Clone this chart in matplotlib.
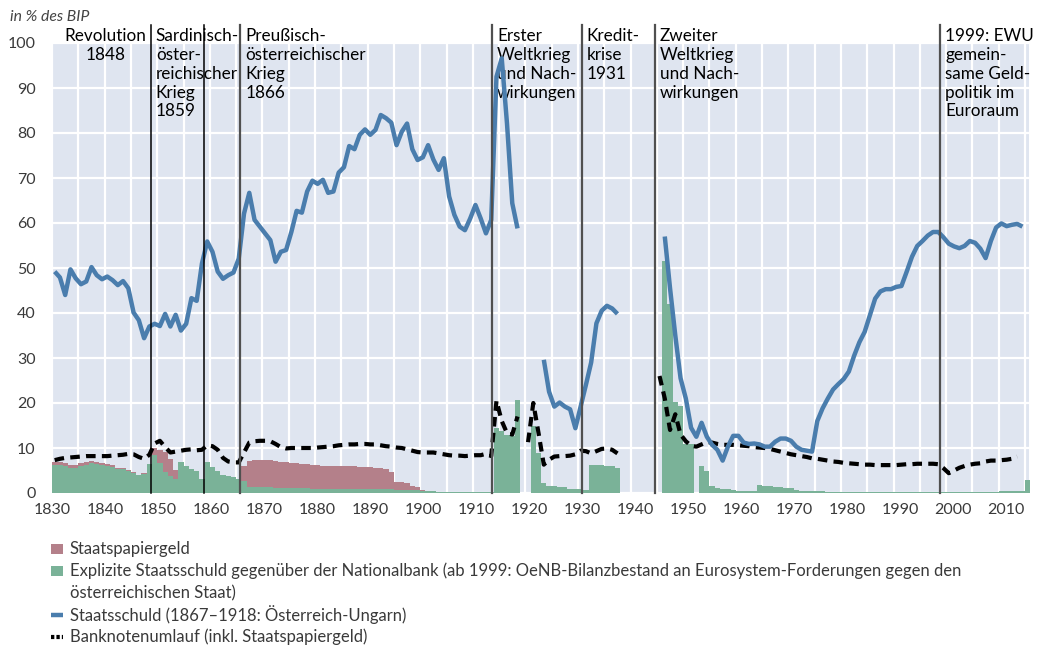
import numpy as np
import matplotlib
matplotlib.use("Agg")
import matplotlib.pyplot as plt
from matplotlib.patches import Rectangle
from matplotlib.lines import Line2D
from matplotlib.transforms import ScaledTranslation

plt.rcParams['font.family'] = ['Lato', 'DejaVu Sans']

# ---------------- data (in % des BIP) ----------------
# Staatsschuld
debt_a_start = 1830
debt_a = [49.2, 47.9, 44.0, 49.7, 47.7, 46.4, 47.0, 50.2, 48.4, 47.5,
          48.1, 47.3, 46.2, 47.1, 45.5, 40.1, 38.4, 34.4, 37.0, 37.6,
          37.1, 39.8, 37.0, 39.6, 36.1, 37.6, 43.3, 42.7, 51.0, 55.9,
          53.6, 49.2, 47.6, 48.4, 49.0, 52.1, 62.1, 66.7, 60.7, 59.2,
          57.7, 56.2, 51.4, 53.6, 54.0, 58.0, 62.7, 62.3, 67.0, 69.4,
          68.7, 69.6, 66.7, 67.0, 71.2, 72.4, 77.1, 76.4, 79.6, 80.8,
          79.6, 80.7, 84.0, 83.3, 82.3, 77.3, 80.3, 82.1, 76.4, 74.0,
          74.6, 77.3, 74.1, 71.8, 74.4, 65.9, 61.8, 59.2, 58.4, 61.0,
          64.0, 61.0, 57.7, 60.7, 92.5, 96.6, 82.1, 64.4, 58.8]
debt_b_start = 1923
debt_b = [29.6, 22.5, 19.2, 20.1, 19.2, 18.6, 14.4, 19.2, 24.0, 29.0,
          37.7, 40.5, 41.6, 41.0, 39.8]
debt_c_start = 1946
debt_c = [57.0, 45.5, 35.0, 25.5, 21.0, 14.5, 12.5, 15.6, 12.5, 10.7,
          9.6, 7.2, 10.3, 12.7, 12.7, 11.2, 10.9, 11.0, 10.8, 10.3,
          10.3, 11.4, 12.1, 12.1, 11.6, 10.3, 9.6, 9.4, 9.2, 16.0,
          18.8, 21.0, 23.0, 24.2, 25.3, 27.0, 30.5, 33.5, 35.8, 39.5,
          43.2, 44.8, 45.3, 45.3, 45.8, 46.0, 49.2, 52.5, 54.9, 56.0,
          57.2, 58.0, 58.0, 56.8, 55.4, 54.8, 54.4, 54.9, 56.0, 55.6,
          54.3, 52.2, 56.0, 59.0, 59.9, 59.3, 59.6, 59.8, 59.2]

# Banknotenumlauf (inkl. Staatspapiergeld)
notes_a_start = 1830
notes_a = [7.3, 7.6, 7.8, 7.9, 8.0, 8.1, 8.2, 8.2, 8.2, 8.2,
           8.2, 8.3, 8.4, 8.5, 8.7, 8.6, 8.0, 7.6, 8.5, 11.0,
           11.6, 10.2, 9.0, 9.2, 9.4, 9.6, 9.7, 9.5, 9.6, 10.6,
           10.4, 9.6, 7.8, 7.0, 6.8, 6.8, 9.0, 11.2, 11.5, 11.6,
           11.6, 11.5, 10.9, 10.2, 9.9, 10.0, 10.0, 10.0, 10.0, 10.0,
           10.1, 10.2, 10.3, 10.4, 10.6, 10.7, 10.8, 10.8, 10.9, 10.9,
           10.8, 10.8, 10.6, 10.4, 10.3, 10.1, 10.0, 9.7, 9.4, 9.1,
           9.0, 9.0, 9.0, 8.8, 8.6, 8.4, 8.3, 8.3, 8.2, 8.3,
           8.4, 8.4, 8.7, 8.2, 20.5, 16.0, 13.3, 13.0, 17.0]
notes_b_start = 1920
notes_b = [11.3, 20.0, 13.3, 6.3, 7.4, 8.1, 8.2, 8.2, 8.3, 8.6,
           9.4, 9.3, 8.8, 9.3, 9.8, 9.9, 9.6, 8.8]
notes_c_start = 1945
notes_c = [26.0, 21.0, 14.0, 17.5, 13.0, 11.5, 10.5, 10.3, 10.8, 11.3,
           11.2, 10.9, 10.7, 10.7, 10.7, 10.6, 10.5, 10.4, 10.2, 10.1,
           10.0, 9.8, 9.5, 9.2, 8.9, 8.6, 8.4, 8.2, 8.0, 7.7,
           7.6, 7.4, 7.2, 7.0, 6.9, 6.7, 6.6, 6.5, 6.4, 6.3,
           6.3, 6.2, 6.2, 6.2, 6.2, 6.2, 6.3, 6.4, 6.4, 6.5,
           6.5, 6.5, 6.5, 6.4, 5.5, 4.4, 5.0, 5.6, 6.0, 6.3,
           6.5, 6.6, 7.0, 7.2, 7.2, 7.3, 7.4, 7.6, 8.1]

# Explizite Staatsschuld gegenüber der Nationalbank
green_a_start = 1830
green_a = [6.2, 6.2, 6.0, 5.5, 5.6, 6.0, 6.3, 6.6, 6.4, 6.2,
           6.0, 5.8, 5.4, 5.3, 4.8, 4.4, 3.9, 4.2, 6.4, 8.4,
           6.6, 4.6, 3.7, 3.1, 7.0, 6.0, 5.4, 5.0, 3.2, 6.8,
           5.7, 4.8, 4.0, 3.8, 3.5, 3.1, 2.6, 1.4, 1.4, 1.3,
           1.3, 1.3, 1.2, 1.2, 1.2, 1.1, 1.1, 1.1, 1.1, 1.0,
           1.0, 1.0, 1.0, 1.0, 0.9, 0.9, 0.9, 0.9, 0.9, 0.9,
           0.8, 0.8, 0.8, 0.8, 0.8, 0.7, 0.7, 0.7, 0.6, 0.6,
           0.5, 0.4, 0.4, 0.3, 0.3, 0.3, 0.3, 0.3, 0.3, 0.3,
           0.2, 0.2, 0.2, 0.2, 14.5, 13.8, 13.0, 12.6, 20.7]
green_b_start = 1921
green_b = [15.0, 9.0, 2.2, 1.5, 1.5, 1.4, 1.3, 0.9, 0.8, 0.8,
           0.7, 6.3, 6.3, 6.2, 6.1, 6.0, 5.6]
green_c_start = 1946
green_c = [51.6, 42.0, 20.3, 19.3, 11.0, 11.0, 0.0, 6.0, 4.8, 1.5,
           1.2, 1.0, 0.9, 0.7, 0.5, 0.5, 0.5, 0.5, 1.7, 1.6,
           1.5, 1.4, 1.3, 1.2, 1.1, 0.6, 0.5, 0.5, 0.5, 0.4,
           0.4, 0.3, 0.3, 0.2, 0.2, 0.2, 0.2, 0.2, 0.2, 0.2,
           0.2, 0.2, 0.2, 0.2, 0.2, 0.2, 0.2, 0.2, 0.2, 0.2,
           0.2, 0.2, 0.2, 0.2, 0.2, 0.2, 0.2, 0.2, 0.2, 0.2,
           0.2, 0.2, 0.2, 0.3, 0.4, 0.4, 0.5, 0.5, 0.4, 3.0]

# Staatspapiergeld (stacked on top of green)
paper_start = 1830
paper = [0.8, 0.8, 0.6, 0.7, 0.6, 0.7, 0.7, 0.5, 0.4, 0.4,
         0.4, 0.4, 0.2, 0.2, 0.3, 0.2, 0.2, 0.2, 0.0, 1.7,
         3.0, 4.6, 3.9, 2.0, 0.0, 0.0, 0.0, 0.0, 0.0, 0.0,
         0.0, 0.0, 0.0, 0.0, 0.0, 0.0, 3.4, 5.8, 5.9, 6.1,
         6.1, 6.0, 5.9, 5.8, 5.6, 5.6, 5.5, 5.3, 5.3, 5.3,
         5.2, 5.1, 5.0, 5.0, 5.2, 5.1, 5.0, 5.0, 4.9, 4.9,
         4.9, 4.8, 4.7, 4.5, 3.9, 1.8, 1.7, 1.6, 1.0, 0.7,
         0.1]

# events (vertical lines) and their captions
event_years = [1848.8, 1858.9, 1865.8, 1913.7, 1930.7, 1944.6, 1998.9]
caption_revolution = "Revolution\n1848"
captions_right_of_line = [
    (0, "Sardinisch-\nöster-\nreichischer\nKrieg\n1859"),
    (2, "Preußisch-\nösterreichischer\nKrieg\n1866"),
    (3, "Erster\nWeltkrieg\nund Nach-\nwirkungen"),
    (4, "Kredit-\nkrise\n1931"),
    (5, "Zweiter\nWeltkrieg\nund Nach-\nwirkungen"),
    (6, "1999: EWU\ngemein-\nsame Geld-\npolitik im\nEuroraum"),
]

x_ticks = list(range(1830, 2011, 10))
y_ticks = list(range(0, 101, 10))

legend_labels = ["Staatspapiergeld",
                 "Explizite Staatsschuld gegenüber der Nationalbank (ab 1999: OeNB-Bilanzbestand an Eurosystem-Forderungen gegen den\nösterreichischen Staat)",
                 "Staatsschuld (1867–1918: Österreich-Ungarn)",
                 "Banknotenumlauf (inkl. Staatspapiergeld)"]

# ---------------- styles ----------------
C_BG = '#dfe5f0'
C_BLUE = '#4a7dad'
C_GREEN = '#7ab298'
C_PINK = '#b4808a'
C_TXT = '#3a3a3a'

W, H = 1038, 647
fig = plt.figure(figsize=(W / 100, H / 100), dpi=100)
ax = fig.add_axes([51 / W, 1 - 493 / H, 978 / W, 450 / H])
ax.set_facecolor(C_BG)
ax.set_xlim(1829.8, 2015.75)
ax.set_ylim(0, 100)
for s in ax.spines.values():
    s.set_visible(False)

ax.set_xticks(x_ticks)
ax.set_xticks(range(1830, 2016, 5), minor=True)
ax.set_yticks(y_ticks)
ax.grid(which='both', color='white', lw=1.6, zorder=0)
ax.set_axisbelow(True)
ax.tick_params(which='both', length=0)
ax.tick_params(axis='x', pad=7, labelsize=11.5, labelcolor=C_TXT)
ax.tick_params(axis='y', pad=11, labelsize=11.5, labelcolor=C_TXT)

# reference labels drift slightly to the right of their gridlines
for yr, lab in zip(x_ticks, ax.get_xticklabels()):
    dx = (yr - 1830) * 0.04 / 100.0
    lab.set_transform(lab.get_transform() + ScaledTranslation(dx, 0, fig.dpi_scale_trans))


def steps(start, vals):
    v = np.asarray(vals, dtype=float)
    x = np.arange(start, start + len(v) + 1)
    return x, np.append(v, v[-1])


# stacked areas
for st, vals in [(green_a_start, green_a), (green_b_start, green_b), (green_c_start, green_c)]:
    x, y = steps(st, vals)
    ax.fill_between(x, 0, y, step='post', color=C_GREEN, lw=0, zorder=2)

g_under = np.asarray(green_a[:len(paper)])
x, base = steps(paper_start, g_under)
_, top = steps(paper_start, g_under + np.asarray(paper))
ax.fill_between(x, base, top, step='post', color=C_PINK, lw=0, zorder=2)

# banknotes
for st, vals in [(notes_a_start, notes_a), (notes_b_start, notes_b), (notes_c_start, notes_c)]:
    yrs = np.arange(st, st + len(vals)) + 0.5
    ax.plot(yrs, vals, color='black', lw=3.0, ls=(0, (2.3, 1.5)),
            dash_capstyle='butt', zorder=3)

# debt
for st, vals in [(debt_a_start, debt_a), (debt_b_start, debt_b), (debt_c_start, debt_c)]:
    yrs = np.arange(st, st + len(vals)) + 0.5
    ax.plot(yrs, vals, color=C_BLUE, lw=3.2, solid_capstyle='butt', zorder=4)

# event lines & texts
xtr = ax.get_xaxis_transform()
for i, ex in enumerate(event_years):
    col = 'black' if i < 2 else '#505050'
    lw = 1.1 if i < 2 else 1.6
    ax.plot([ex, ex], [0, 1.04], transform=xtr, color=col, lw=lw,
            clip_on=False, zorder=5)

TXT_Y = 1.0335
TXT_KW = dict(fontsize=12.3, color='black', linespacing=1.22, va='top')
ax.text(1840.1, TXT_Y, caption_revolution, transform=xtr, ha='center', **TXT_KW)
for idx, t in captions_right_of_line:
    ax.annotate(t, xy=(event_years[idx], TXT_Y), xycoords=xtr, xytext=(3.5, 0),
                textcoords='offset points', ha='left', annotation_clip=False, **TXT_KW)

fig.text(10 / W, 1 - 17 / H, "in % des BIP", fontsize=11.3, style='italic',
         color='#444444', va='center', ha='left')


# legend (manual)
def fx(px):
    return px / W


def fy(py):
    return 1 - py / H


lx0, lx1, tx = 51, 63, 70
rows = [549, 571, 615, 637]
line_gap = 22
fig.add_artist(Rectangle((fx(lx0), fy(rows[0] + 5)), (lx1 - lx0) / W, 10 / H,
                         transform=fig.transFigure, color=C_PINK, lw=0))
fig.add_artist(Rectangle((fx(lx0), fy(rows[1] + 5)), (lx1 - lx0) / W, 10 / H,
                         transform=fig.transFigure, color=C_GREEN, lw=0))
fig.add_artist(Line2D([fx(lx0), fx(lx1)], [fy(rows[2])] * 2, transform=fig.transFigure,
                      color=C_BLUE, lw=3.2, solid_capstyle='butt'))
fig.add_artist(Line2D([fx(lx0), fx(lx1)], [fy(rows[3])] * 2, transform=fig.transFigure,
                      color='black', lw=3.0, ls=(0, (0.8, 0.5)), dash_capstyle='butt'))
for r, lab in zip(rows, legend_labels):
    for k, part in enumerate(lab.split('\n')):
        fig.text(fx(tx), fy(r + k * line_gap), part, fontsize=12.0, color=C_TXT,
                 va='center', ha='left')

fig.savefig('out.png', dpi=100)
